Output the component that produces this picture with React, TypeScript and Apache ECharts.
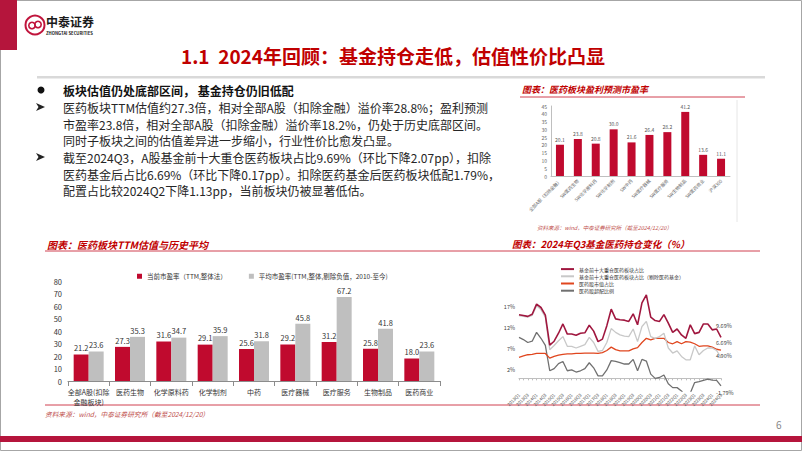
import React, { useEffect, useRef } from "react";
import * as echarts from "echarts";

const FONT = "'Noto Sans CJK SC', 'Noto Sans', sans-serif";

// 医药板块盈利预测市盈率
const peCategories = [
  "全部A股（扣除金融）",
  "SW医药生物",
  "SW化学原料药",
  "SW化学制剂",
  "SW中药",
  "SW医疗器械",
  "SW医疗服务",
  "SW生物制品",
  "SW医药商业",
  "沪深300",
];
const peValues = [20.1, 23.8, 20.8, 30.0, 21.6, 26.4, 28.2, 41.2, 13.6, 11.1];

// 医药板块TTM估值与历史平均
const ttmCategories = [
  "全部A股(扣除\n金融板块)",
  "医药生物",
  "化学原料药",
  "化学制剂",
  "中药",
  "医疗器械",
  "医疗服务",
  "生物制品",
  "医药商业",
];
const ttmCurrent = [21.2, 27.3, 31.6, 29.1, 25.6, 29.2, 31.2, 25.8, 18.0];
const ttmAverage = [23.6, 35.3, 34.7, 35.9, 31.8, 45.8, 67.2, 41.8, 23.6];
const ttmNames = ["当前市盈率（TTM,整体法）", "平均市盈率(TTM,整体,剔除负值，2010-至今)"];

// 2024年Q3基金医药持仓变化
const quarterLabels = [
  "2013Q1", "2013Q2", "2013Q3", "2013Q4",
  "2014Q1", "2014Q2", "2014Q3", "2014Q4",
  "2015Q1", "2015Q2", "2015Q3", "2015Q4",
  "2016Q1", "2016Q2", "2016Q3", "2016Q4",
  "2017Q1", "2017Q2", "2017Q3", "2017Q4",
  "2018Q1", "2018Q2", "2018Q3", "2018Q4",
  "2019Q1", "2019Q2", "2019Q3", "2019Q4",
  "2020Q1", "2020Q2", "2020Q3", "2020Q4",
  "2021Q1", "2021Q2", "2021Q3", "2021Q4",
  "2022Q1", "2022Q2", "2022Q3", "2022Q4",
  "2023Q1", "2023Q2", "2023Q3", "2023Q4",
  "2024Q1", "2024Q2", "2024Q3",
];
const topHoldShare = [
  15.1, 14.9, 14.7, 15.2, 17.6, 16.8, 15.0, 7.9, 8.8, 10.7, 12.9, 10.5,
  10.5, 10.2, 10.7, 10.8, 12.6, 11.2, 8.7, 9.3, 12.5, 16.4, 14.1, 13.9,
  13.8, 13.5, 15.3, 12.7, 17.9, 19.8, 14.5, 13.7, 13.5, 15.1, 13.1, 10.9,
  11.7, 10.3, 9.5, 12.7, 10.6, 10.9, 12.9, 12.9, 11.5, 11.7, 9.69,
];
const topHoldExMedFund = [
  14.9, 14.7, 14.5, 14.9, 17.2, 16.3, 14.5, 6.8, 7.8, 8.9, 9.9, 7.6,
  7.6, 7.2, 7.6, 8.0, 9.7, 8.5, 6.4, 6.6, 8.5, 11.8, 10.9, 10.3,
  10.0, 9.9, 11.7, 8.7, 12.3, 13.5, 9.9, 9.5, 9.9, 10.7, 7.2, 6.0,
  6.5, 5.2, 4.4, 4.4, 7.7, 5.6, 6.6, 7.2, 7.2, 6.6, 4.9,
];
const medMarketShare = [
  5.0, 5.3, 5.6, 5.7, 5.9, 5.9, 5.9, 4.8, 5.2, 5.5, 5.7, 5.8,
  5.8, 5.9, 5.9, 6.0, 6.0, 6.0, 5.9, 6.1, 6.6, 7.4, 6.8, 6.5,
  6.5, 6.5, 7.0, 7.3, 8.5, 9.5, 9.1, 9.5, 9.5, 9.5, 8.5, 8.2,
  8.7, 8.2, 8.7, 8.6, 8.2, 7.6, 7.7, 7.7, 7.4, 6.9, 6.69,
];
const medOverweight = [
  9.7, 9.2, 8.5, 8.8, 10.9, 9.5, 7.8, 1.8, 2.3, 3.5, 4.0, 1.8,
  2.0, 1.5, 1.8, 2.3, 3.7, 2.5, 0.6, 0.6, 2.0, 4.2, 4.0, 3.7,
  3.4, 3.4, 4.5, 1.8, 4.5, 4.1, 1.0, 0.0, 0.2, 0.8, -1.3, -2.2,
  -2.2, -3.0, -4.3, -3.5, -1.0, -0.8, -0.5, -0.2, -0.4, -0.5, -1.79,
];
const holdNames = [
  "基金前十大重仓医药板块占比",
  "基金前十大重仓医药板块占比（剔除医药基金）",
  "医药股市值占比",
  "医药股超配比例",
];
const pctTicks = [2, 7, 12, 17];

const bodyLines = [
  "医药板块TTM估值约27.3倍，相对全部A股（扣除金融）溢价率28.8%；盈利预测",
  "市盈率23.8倍，相对全部A股（扣除金融）溢价率18.2%，仍处于历史底部区间。",
  "同时子板块之间的估值差异进一步缩小，行业性价比愈发凸显。",
  "截至2024Q3，A股基金前十大重仓医药板块占比9.69%（环比下降2.07pp），扣除",
  "医药基金后占比6.69%（环比下降0.17pp）。扣除医药基金后医药板块低配1.79%，",
  "配置占比较2024Q2下降1.13pp，当前板块仍被显著低估。",
];
const bodyY = [107, 124, 140, 157, 174, 190];

const RED = "#C00000";
const BAR_RED = "#C00A2E";
const SRC = "#C0504D";

function txt(x: number, y: number, text: string, fontSize: number, fill: string, extra: any = {}) {
  return {
    type: "text",
    x,
    y,
    silent: true,
    style: {
      text,
      fontSize,
      fill,
      fontFamily: FONT,
      align: "left",
      verticalAlign: "middle",
      ...extra,
    },
  };
}

function arrow(y: number) {
  return {
    type: "polygon",
    silent: true,
    shape: { points: [[36, y - 4], [45, y], [36, y + 4], [38.5, y]] },
    style: { fill: "#222" },
  };
}

function hline(x1: number, x2: number, y: number, stroke: string, lineWidth = 1) {
  return {
    type: "line",
    silent: true,
    shape: { x1, y1: y, x2, y2: y },
    style: { stroke, lineWidth },
  };
}

export default function App() {
  const ref = useRef<HTMLDivElement>(null);

  useEffect(() => {
    if (!ref.current) return;
    const chart = echarts.init(ref.current, null, { renderer: "svg" });

    const graphic: any[] = [
      { type: "rect", silent: true, shape: { x: 0.5, y: 0.5, width: 801, height: 450 }, style: { fill: "none", stroke: "#a6a6a6", lineWidth: 1 } },
      { type: "rect", silent: true, shape: { x: 0, y: 0, width: 17, height: 50 }, style: { fill: "#B5153C" } },
      { type: "circle", silent: true, shape: { cx: 35, cy: 25, r: 9.5 }, style: { fill: "none", stroke: "#C0143C", lineWidth: 2 } },
      { type: "circle", silent: true, shape: { cx: 32, cy: 25.5, r: 3.2 }, style: { fill: "none", stroke: "#C0143C", lineWidth: 1.6 } },
      { type: "circle", silent: true, shape: { cx: 38, cy: 24.5, r: 3.2 }, style: { fill: "none", stroke: "#C0143C", lineWidth: 1.6 } },
      txt(46, 21.5, "中泰证券", 12, "#1a1a1a", { fontWeight: "bold" }),
      txt(46, 33, "ZHONGTAI SECURITIES", 4.2, "#1a1a1a", { fontWeight: "bold" }),
      txt(393, 55, "1.1  2024年回顾：基金持仓走低，估值性价比凸显", 19, RED, { fontWeight: "bold", align: "center" }),
      { type: "rect", silent: true, shape: { x: 37, y: 76, width: 728, height: 2.5 }, style: { fill: "#d9d9d9" } },
      { type: "circle", silent: true, shape: { cx: 41, cy: 90, r: 3.5 }, style: { fill: "#111" } },
      txt(63, 90, "板块估值仍处底部区间， 基金持仓仍旧低配", 12, "#111", { fontWeight: "bold" }),
      arrow(107),
      arrow(157),
      ...bodyLines.map((l, i) => txt(63, bodyY[i], l, 12, "#262626")),
      txt(522, 89, "图表：医药板块盈利预测市盈率", 9, RED, { fontWeight: "bold", fontStyle: "italic" }),
      hline(520, 745, 97, "#D04050"),
      { type: "line", silent: true, shape: { x1: 737, y1: 100, x2: 737, y2: 222 }, style: { stroke: "#e6e6e6", lineWidth: 1 } },
      txt(537, 228, "资料来源：wind，中泰证券研究所（截至2024/12/20）", 5.5, SRC, { fontStyle: "italic" }),
      txt(47, 244, "图表：医药板块TTM估值与历史平均", 10, RED, { fontWeight: "bold", fontStyle: "italic" }),
      txt(512, 244, "图表：2024年Q3基金医药持仓变化（%）", 9.5, RED, { fontWeight: "bold", fontStyle: "italic" }),
      hline(45, 760, 251, "#D04050"),
      hline(45, 760, 405, "#D04050"),
      txt(45, 414, "资料来源：wind，中泰证券研究所（截至2024/12/20）", 6.7, SRC, { fontStyle: "italic" }),
      { type: "rect", silent: true, shape: { x: 0, y: 436, width: 802, height: 6 }, style: { fill: "#B5153C" } },
      txt(776, 424, "6", 10, "#888"),
    ];

    const endOffsets = [-11.5, -2, -7, 7];
    const lineColors = ["#A0173F", "#C8C8C8", "#E0461E", "#707070"];
    const lineData = [topHoldShare, topHoldExMedFund, medMarketShare, medOverweight];
    const lineWidths = [1.6, 1.3, 1.3, 1.3];
    const lineSeries = [3, 2, 1, 0].map((k) => ({
      type: "line",
      name: holdNames[k],
      xAxisIndex: 2,
      yAxisIndex: 2,
      data: lineData[k],
      symbol: "none",
      itemStyle: { color: lineColors[k] },
      lineStyle: { color: lineColors[k], width: lineWidths[k] },
      endLabel: {
        show: true,
        distance: 0,
        offset: [-5, endOffsets[k]],
        fontSize: 5.5,
        color: "#444",
        formatter: (p: any) => {
          const v = Array.isArray(p.value) ? p.value[1] : p.value;
          return Number(v).toFixed(2) + "%";
        },
      },
    }));

    const option: any = {
      animation: false,
      textStyle: { fontFamily: FONT },
      graphic,
      grid: [
        { left: 551, right: 72, top: 106, bottom: 275, outerBoundsMode: "none" },
        { left: 68, right: 362, top: 281, bottom: 70, outerBoundsMode: "none" },
        { left: 519, right: 81, top: 294, bottom: 60, outerBoundsMode: "none" },
      ],
      legend: [
        {
          data: ttmNames,
          left: 132,
          top: 268,
          icon: "rect",
          itemWidth: 5,
          itemHeight: 5,
          itemGap: 22,
          selectedMode: false,
          textStyle: { fontSize: 6.5, color: "#333", fontFamily: FONT },
        },
        {
          data: holdNames,
          orient: "vertical",
          left: 556,
          top: 261,
          icon: "rect",
          itemWidth: 13,
          itemHeight: 2,
          itemGap: 1,
          selectedMode: false,
          textStyle: { fontSize: 5, lineHeight: 6.2, color: "#333", fontFamily: FONT },
        },
      ],
      xAxis: [
        {
          type: "category",
          gridIndex: 0,
          data: peCategories,
          axisLine: { lineStyle: { color: "#bfbfbf" } },
          axisTick: { show: false },
          axisLabel: { rotate: 45, fontSize: 4.5, color: "#666", interval: 0, margin: 4 },
        },
        {
          type: "category",
          gridIndex: 1,
          data: ttmCategories,
          axisLine: { lineStyle: { color: "#8c8c8c" } },
          axisTick: { show: true, lineStyle: { color: "#8c8c8c" } },
          axisLabel: { fontSize: 7, color: "#333", interval: 0, margin: 6, lineHeight: 10 },
        },
        {
          type: "category",
          gridIndex: 2,
          data: quarterLabels,
          boundaryGap: false,
          axisLine: { onZero: true, lineStyle: { color: "#bfbfbf" } },
          axisTick: { show: true, interval: 0, length: 2, lineStyle: { color: "#bfbfbf" } },
          axisLabel: { rotate: 45, fontSize: 4.5, color: "#555", interval: 1, margin: 3 },
        },
      ],
      yAxis: [
        {
          type: "value",
          gridIndex: 0,
          min: 0,
          max: 45,
          interval: 5,
          axisLine: { show: true, lineStyle: { color: "#bfbfbf" } },
          axisTick: { show: false },
          splitLine: { show: false },
          axisLabel: { fontSize: 5, color: "#666", margin: 4 },
        },
        {
          type: "value",
          gridIndex: 1,
          min: 0,
          max: 80,
          interval: 10,
          axisLine: { show: false },
          axisTick: { show: false },
          splitLine: { show: false },
          axisLabel: { fontSize: 7.5, color: "#333", margin: 6 },
        },
        {
          type: "value",
          gridIndex: 2,
          min: -3,
          max: 20,
          interval: 5,
          axisLine: { show: false },
          axisTick: { show: false },
          splitLine: { show: false },
          axisLabel: {
            fontSize: 5.5,
            color: "#444",
            margin: 4,
            formatter: (v: number) => (pctTicks.includes(v) ? v + "%" : ""),
          },
        },
      ],
      series: [
        {
          type: "bar",
          name: "盈利预测市盈率",
          xAxisIndex: 0,
          yAxisIndex: 0,
          data: peValues,
          barWidth: 8,
          itemStyle: { color: BAR_RED },
          label: { show: true, position: "top", fontSize: 5, color: "#555", distance: 3, formatter: (p: any) => Number(p.value).toFixed(1) },
        },
        {
          type: "bar",
          name: ttmNames[0],
          xAxisIndex: 1,
          yAxisIndex: 1,
          data: ttmCurrent,
          barWidth: 15,
          barGap: "0%",
          itemStyle: { color: BAR_RED },
          label: { show: true, position: "top", fontSize: 7.5, color: "#333", distance: 3, formatter: (p: any) => Number(p.value).toFixed(1) },
        },
        {
          type: "bar",
          name: ttmNames[1],
          xAxisIndex: 1,
          yAxisIndex: 1,
          data: ttmAverage,
          barWidth: 15,
          barGap: "0%",
          itemStyle: { color: "#BFBFBF" },
          label: { show: true, position: "top", fontSize: 7.5, color: "#333", distance: 3, formatter: (p: any) => Number(p.value).toFixed(1) },
        },
        ...lineSeries,
      ],
    };

    chart.setOption(option);
    return () => chart.dispose();
  }, []);

  return (
    <div
      ref={ref}
      style={{ position: "absolute", left: 0, top: 0, width: 802, height: 451, background: "#fff" }}
    />
  );
}
